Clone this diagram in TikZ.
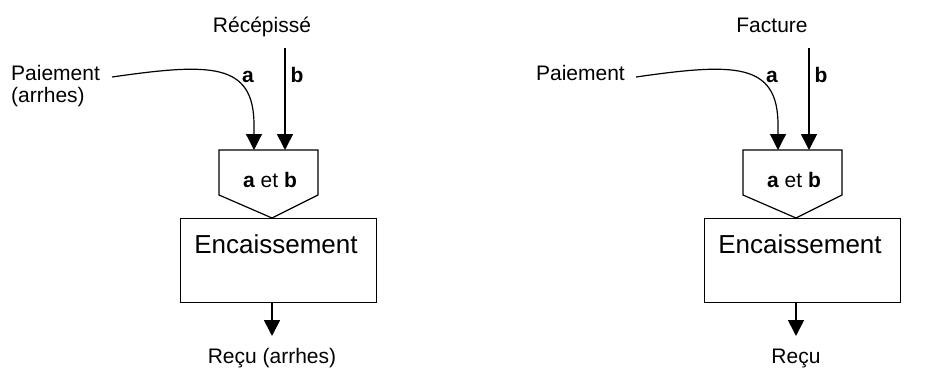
\documentclass[tikz,border=0pt]{standalone}
\usepackage{fontspec}
\setmainfont{Liberation Sans}
\usetikzlibrary{arrows.meta,positioning}

\tikzset{
  txt/.style={inner sep=0pt, anchor=base, font=\fontsize{21}{22}\selectfont},
  big/.style={inner sep=0pt, anchor=base, font=\fontsize{26}{28}\selectfont},
  lettre/.style={inner sep=0pt, anchor=base, font=\fontsize{21}{22}\selectfont\bfseries},
  flux/.style={line width=1.7pt, -{Triangle[length=16pt,width=16pt]}},
  fluxa/.style={line width=1.2pt, -{Triangle[length=16pt,width=16pt]}},
  porte/.style={line width=1.2pt},
  boite/.style={draw, line width=0.7pt, minimum width=196pt, minimum height=84pt, inner sep=0pt}
}

\begin{document}
\begin{tikzpicture}[x=1pt,y=-1pt]
\useasboundingbox (0,0) rectangle (947,369);

% --- gauche : arrhes
\node[txt] (recepisse) at (262,33) {Récépissé};
\node[txt, anchor=base west] (paieL) at (11,80) {Paiement};
\node[txt, anchor=base west] (arrhes) at (11,102) {(arrhes)};
\coordinate (bL) at (285,48);
\coordinate (aL) at (112,77);
\coordinate (pL1) at (219,150);
\coordinate (pL2) at (318,150);
\coordinate (pL3) at (318,195);
\coordinate (pL4) at (272,218);
\coordinate (pL5) at (219,195);
\draw[porte] (pL1) -- (pL2) -- (pL3) -- (pL4) -- (pL5) -- cycle;
\node[txt] (etL) at (270,187) {\textbf{a} et \textbf{b}};
\node[boite] (encL) at (278,260) {};
\node[big] (encTL) at (276,253) {Encaissement};
\node[txt] (recuL) at (272,363) {Reçu (arrhes)};
\coordinate (sL) at (272,302);
\coordinate (tL) at (272,336);

\draw[flux] (bL) -- (bL |- pL1);
\draw[fluxa] (aL) .. controls (210,63) and (254,62) .. (254,125) -- (254,150);
\node[lettre] (laL) at (248,82) {a};
\node[lettre] (lbL) at (297,82) {b};
\draw[line width=1.7pt] (encL.south west) -- (encL.south east);
\draw[flux] (sL) -- (tL);

% --- droite : facture
\node[txt] (facture) at (772,33) {Facture};
\node[txt, anchor=base east] (paieR) at (625,80) {Paiement};
\coordinate (bR) at (809,48);
\coordinate (aR) at (636,77);
\coordinate (pR1) at (743,150);
\coordinate (pR2) at (842,150);
\coordinate (pR3) at (842,195);
\coordinate (pR4) at (796,218);
\coordinate (pR5) at (743,195);
\draw[porte] (pR1) -- (pR2) -- (pR3) -- (pR4) -- (pR5) -- cycle;
\node[txt] (etR) at (794,187) {\textbf{a} et \textbf{b}};
\node[boite] (encR) at (802,260) {};
\node[big] (encTR) at (800,253) {Encaissement};
\node[txt] (recuR) at (796,363) {Reçu};
\coordinate (sR) at (796,302);
\coordinate (tR) at (796,336);

\draw[flux] (bR) -- (bR |- pR1);
\draw[fluxa] (aR) .. controls (734,63) and (778,62) .. (778,125) -- (778,150);
\node[lettre] (laR) at (772,82) {a};
\node[lettre] (lbR) at (821,82) {b};
\draw[line width=1.7pt] (encR.south west) -- (encR.south east);
\draw[flux] (sR) -- (tR);
\end{tikzpicture}
\end{document}
